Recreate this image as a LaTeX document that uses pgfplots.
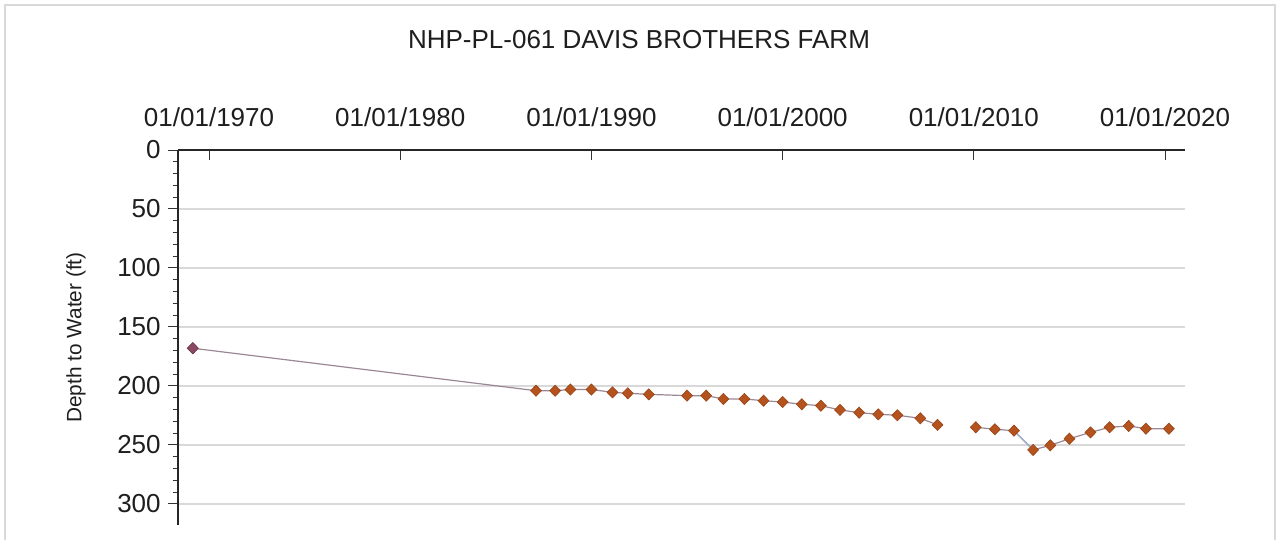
\documentclass[border=0pt]{standalone}
\usepackage{pgfplots}
\pgfplotsset{compat=1.18}
\usepackage{fontspec}
\setmainfont{Liberation Sans}
\definecolor{mk}{HTML}{B4531E}
\definecolor{mkedge}{HTML}{9A4316}
\definecolor{mkone}{HTML}{8A4A66}
\definecolor{ln}{HTML}{9C8894}
\definecolor{lnb}{HTML}{9DB0CC}
\definecolor{gridc}{HTML}{D9D9D9}
\definecolor{txt}{HTML}{1E1E1E}

\pgfplotstableread{
x y
1969.15 168
1987.10 204
1988.10 204
1988.90 203
1990.00 203
1991.10 205.4
1991.90 206.2
1993.00 207.1
1995.00 208.2
1996.00 208.2
1996.90 211
1998.00 211
1999.00 212.5
2000.00 213.6
2001.00 215.5
2002.00 216.7
2003.00 220.3
2004.00 222.6
2005.00 224
2006.00 224.8
2007.20 227.4
2008.10 233
}\seriesA

\pgfplotstableread{
x y
2010.10 235
2011.10 236.7
2012.10 237.9
2013.10 254.2
2014.00 250.3
2015.00 244.7
2016.10 239.3
2017.10 235
2018.10 233.9
2019.00 236.2
2020.20 236.2
}\seriesB

\begin{document}
\begin{tikzpicture}
\clip (0,0) rectangle (640pt,-270pt);
\fill[white] (0,0) rectangle (640pt,-270pt);
\draw[gray!30, line width=1pt] (2.5pt,-280pt) -- (2.5pt,-2.5pt) -- (637.5pt,-2.5pt) -- (637.5pt,-280pt);
\node[font=\fontsize{13}{15}\selectfont, text=txt] at (319.5pt,-20pt) {NHP-PL-061 DAVIS BROTHERS FARM};
\begin{axis}[
  at={(88.85pt,-75pt)}, anchor=north west,
  scale only axis, width=503.7pt, height=187.6pt,
  xmin=1968.36, xmax=2021.05,
  ymin=0, ymax=318, y dir=reverse,
  axis x line*=top, axis y line*=left,
  axis line style={line width=1.1pt, black!85, -},
  xtick={1970,1980,...,2020},
  xticklabels={01/01/1970,01/01/1980,01/01/1990,01/01/2000,01/01/2010,01/01/2020},
  ytick={0,50,...,300},
  minor y tick num=4,
  ymajorgrids, grid style={gridc, line width=0.75pt},
  xtick align=inside, ytick align=outside,
  major tick length=5pt, minor tick length=2.5pt,
  tick style={black!80, line width=0.5pt},
  /pgf/number format/assume math mode=true,
  xticklabel style={font=\fontsize{13}{15}\selectfont, text=txt, yshift=8pt},
  yticklabel style={font=\fontsize{13}{15}\selectfont, text=txt},
  ylabel={Depth to Water (ft)},
  ylabel style={font=\fontsize{10.4}{12}\selectfont, text=txt, at={(axis description cs:-0.101,0.5)}, anchor=center},
  clip=false,
]
\addplot[ln, line width=0.6pt, mark=diamond*, mark size=2.8pt,
  mark options={fill=mk, draw=mkedge, line width=0.3pt, xscale=1.3}] table[x=x,y=y] {\seriesA};
\addplot[only marks, mark=diamond*, mark size=2.8pt,
  mark options={fill=mkone, draw=mkone!80!black, line width=0.3pt, xscale=1.3}] coordinates {(1969.15,168)};
\addplot[ln, line width=0.6pt] table[x=x,y=y] {\seriesB};
\addplot[lnb, line width=0.6pt] coordinates {(2012.10,237.9) (2013.10,254.2)};
\addplot[only marks, mark=diamond*, mark size=2.8pt,
  mark options={fill=mk, draw=mkedge, line width=0.3pt, xscale=1.3}] table[x=x,y=y] {\seriesB};
\end{axis}
\end{tikzpicture}
\end{document}
